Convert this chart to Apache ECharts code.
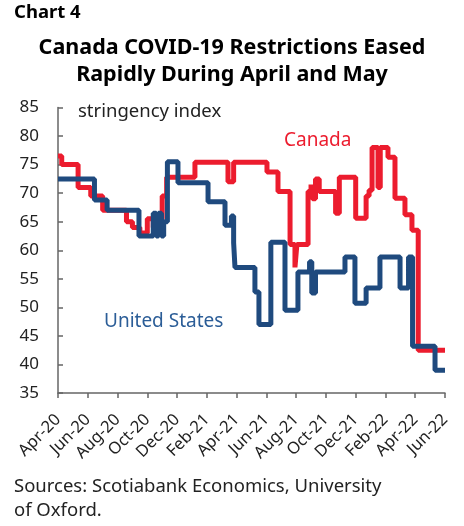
<!DOCTYPE html>
<html><head><meta charset="utf-8">
<script src="https://cdn.jsdelivr.net/npm/echarts@6/dist/echarts.min.js"></script>
<style>html,body{margin:0;padding:0;background:#fff}#c{width:464px;height:526px}</style>
</head><body><div id="c"></div>
<script>
// x = months since Apr-2020
const tickLabels = ['Apr-20','Jun-20','Aug-20','Oct-20','Dec-20','Feb-21','Apr-21','Jun-21','Aug-21','Oct-21','Dec-21','Feb-22','Apr-22','Jun-22'];
const canadaMonths = [0,0.25,1.35,2.2,3.0,4.6,5.0,5.5,6.0,6.4,6.6,7.0,7.3,9.2,11.42,11.8,14.04,14.78,15.59,15.92,16.05,16.8,17.0,17.1,17.3,17.55,18.65,18.9,20.0,20.7,20.9,21.1,21.5,21.65,22.17,22.64,23.31,23.78,24.2,26];
const canadaValues = [76.5,75,71,69.5,67,65,64,63,65.5,64,65.5,69.5,72.8,75.4,72,75.4,73.7,70.3,61,57,61,70.3,71.5,69,72.5,70.3,66.5,72.8,65.6,69.5,70.5,78,71,78,76.3,69.1,66.2,63.5,42.5,42.5];
const usMonths = [0,2.45,3.3,5.44,6.4,6.6,6.75,6.95,7.1,7.35,8.06,10.08,11.22,11.65,11.8,11.89,13.23,13.5,14.3,15.25,16.12,16.9,17.05,17.3,19.28,19.95,20.7,21.63,22.98,23.55,23.82,25.33,26];
const usValues = [72.5,68.8,67,62.5,66.5,62.5,66.5,62.5,65,75.5,71.8,68.5,64.4,66,61.3,57,52.7,47,61.4,49.5,56.2,58,52.5,56.2,58.8,50.7,53.4,58.8,53.4,58.8,43.2,39,39];

const zip = (a,b) => a.map((x,i)=>[x,b[i]]);
const RED = '#EC1C2E', BLUE = '#1F4A7E';
const FONT = 'Noto Sans';
const chart = echarts.init(document.getElementById('c'), null, {renderer:'canvas'});
chart.setOption({
  animation:false,
  backgroundColor:'#fff',
  grid:{left:58,right:19,top:107.5,bottom:133,containLabel:false},
  xAxis:{type:'value',min:0,max:26,interval:2,
    axisLine:{show:true,lineStyle:{color:'#666',width:1.5}},
    axisTick:{show:true,inside:false,length:5,lineStyle:{color:'#666',width:1.5}},
    splitLine:{show:false},
    axisLabel:{rotate:45,margin:24,fontSize:16.5,color:'#222',fontFamily:FONT,align:'right',verticalAlign:'middle',
      formatter:v=>tickLabels[Math.round(v/2)]||''}},
  yAxis:{type:'value',min:35,max:85,interval:5,
    axisLine:{show:true,lineStyle:{color:'#666',width:1.5}},
    axisTick:{show:true,inside:true,length:5,lineStyle:{color:'#666',width:1.5}},
    splitLine:{show:false},
    axisLabel:{margin:19,fontSize:17,color:'#222',fontFamily:FONT}},
  series:[
    {type:'line',step:'end',data:zip(canadaMonths,canadaValues),showSymbol:false,
     lineStyle:{color:RED,width:5},z:2},
    {type:'line',step:'end',data:zip(usMonths,usValues),showSymbol:false,
     lineStyle:{color:BLUE,width:5},z:3}
  ],
  graphic:[
    {type:'text',left:14,top:3,style:{text:'Chart 4',font:'bold 18.5px "'+FONT+'"',fill:'#000'}},
    {type:'text',left:'center',top:37,style:{text:'Canada COVID-19 Restrictions Eased',font:'bold 21.5px "'+FONT+'"',fill:'#000'}},
    {type:'text',left:'center',top:64,style:{text:'Rapidly During April and May',font:'bold 21.5px "'+FONT+'"',fill:'#000'}},
    {type:'text',left:78,top:102,style:{text:'stringency index',font:'18.5px "'+FONT+'"',fill:'#222'}},
    {type:'text',left:284,top:131,style:{text:'Canada',font:'19px "'+FONT+'"',fill:RED}},
    {type:'text',left:104,top:312,style:{text:'United States',font:'19px "'+FONT+'"',fill:'#2B5D97'}},
    {type:'text',left:14,top:477,style:{text:'Sources: Scotiabank Economics, University',font:'18.5px "'+FONT+'"',fill:'#222'}},
    {type:'text',left:14,top:501,style:{text:'of Oxford.',font:'18.5px "'+FONT+'"',fill:'#222'}}
  ]
});
</script></body></html>
